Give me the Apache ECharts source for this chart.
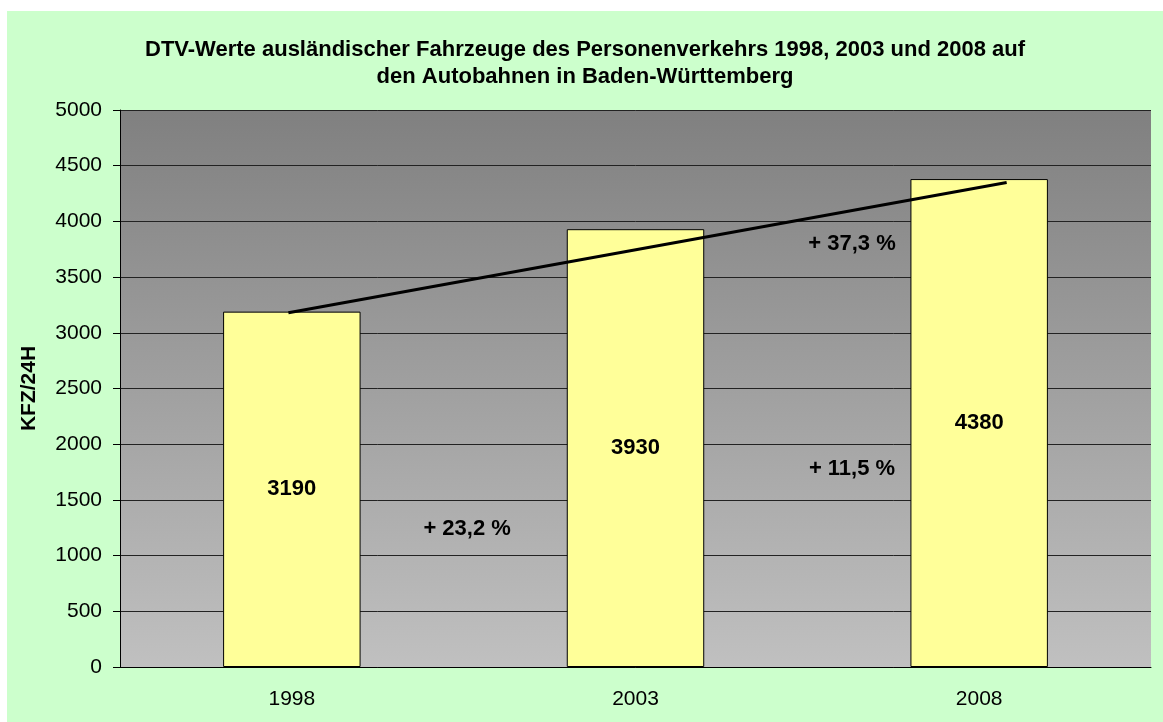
<!DOCTYPE html>
<html>
<head>
<meta charset="utf-8">
<script src="https://cdn.jsdelivr.net/npm/echarts@6/dist/echarts.min.js"></script>
<style>
  html, body { margin: 0; padding: 0; background: #ffffff; }
  #chart {
    position: absolute;
    left: 7px;
    top: 11px;
    width: 1156px;
    height: 711px;
    background: #ccffcc;
  }
</style>
</head>
<body>
<div id="chart"></div>
<script>
// Data
const years = ['1998', '2003', '2008'];
const dtvValues = [3190, 3930, 4380];
// trend line end points (category position, value)
const trendX = [0.49, 2.58];
const trendY = [3180, 4350];
// growth annotations
const growthLabels = ['+ 23,2 %', '+ 11,5 %', '+ 37,3 %'];
const growthX = [1.01, 2.13, 2.13];
const growthY = [1240, 1780, 3800];

const chart = echarts.init(document.getElementById('chart'));

const font = 'Liberation Sans, Arial, sans-serif';

chart.setOption({
    animation: false,
    title: {
        text: 'DTV-Werte ausländischer Fahrzeuge des Personenverkehrs 1998, 2003 und 2008 auf\nden Autobahnen in Baden-Württemberg',
        left: 'center',
        top: 20,
        textStyle: {
            fontFamily: font,
            fontSize: 22,
            fontWeight: 'bold',
            color: '#000',
            lineHeight: 27
        }
    },
    grid: {
        left: 113,
        top: 99,
        right: 12,
        bottom: 55,
        show: true,
        borderWidth: 0,
        backgroundColor: {
            type: 'linear', x: 0, y: 0, x2: 0, y2: 1,
            colorStops: [
                { offset: 0, color: '#808080' },
                { offset: 1, color: '#c0c0c0' }
            ]
        }
    },
    xAxis: [{
        type: 'category',
        data: years,
        boundaryGap: true,
        axisLine: { lineStyle: { color: '#000', width: 1 } },
        axisTick: { length: 7, lineStyle: { color: '#000' } },
        axisLabel: { fontFamily: font, fontSize: 21, color: '#000', margin: 22 },
        splitLine: { show: false }
    }, {
        type: 'value',
        min: 0,
        max: 3,
        show: false
    }],
    yAxis: {
        type: 'value',
        min: 0,
        max: 5000,
        interval: 500,
        name: 'KFZ/24H',
        nameLocation: 'middle',
        nameGap: 80,
        nameRotate: 90,
        nameTextStyle: { fontFamily: font, fontSize: 21, fontWeight: 'bold', color: '#000' },
        axisLine: { show: true, lineStyle: { color: '#000', width: 1 } },
        axisTick: { show: true, length: 7, lineStyle: { color: '#000' } },
        axisLabel: {
            fontFamily: font, fontSize: 21, color: '#000', margin: 18,
            formatter: v => String(v)
        },
        splitLine: { show: true, lineStyle: { color: '#222', width: 1 } }
    },
    series: [{
        type: 'bar',
        data: dtvValues,
        barWidth: '40%',
        itemStyle: { color: '#ffff99', borderColor: '#000', borderWidth: 1 },
        label: {
            show: true,
            position: 'inside',
            fontFamily: font,
            fontSize: 22,
            fontWeight: 'bold',
            color: '#000'
        },
        z: 2
    }, {
        type: 'line',
        xAxisIndex: 1,
        data: trendX.map((x, i) => [x, trendY[i]]),
        symbol: 'none',
        lineStyle: { color: '#000', width: 3 },
        z: 5
    }, {
        type: 'scatter',
        xAxisIndex: 1,
        data: growthLabels.map((name, i) => ({ name: name, value: [growthX[i], growthY[i]] })),
        symbolSize: 0,
        itemStyle: { opacity: 1 },
        label: {
            show: true,
            position: 'inside',
            formatter: p => p.name,
            fontFamily: font,
            fontSize: 22,
            fontWeight: 'bold',
            color: '#000'
        },
        z: 6
    }]
});
</script>
</body>
</html>
